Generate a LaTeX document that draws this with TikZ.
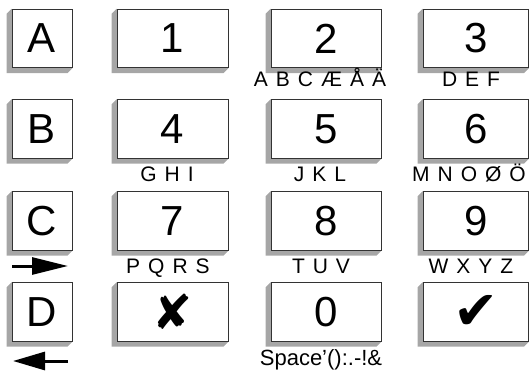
\documentclass[tikz,border=0pt]{standalone}
\usepackage{fontspec}
\setmainfont{Liberation Sans}
\newfontfamily\symfont{DejaVu Sans}
\usetikzlibrary{arrows.meta,calc}
\pgfdeclarelayer{background}
\pgfsetlayers{background,main}
\newcommand\lsp{\hspace{8pt}}
\newcommand\kshadow[1]{%
  \begin{pgfonlayer}{background}
    \fill[shadowfill] (#1.north west) -- ++(-5,5) |- ($(#1.south east)+(-5,5)$) -- (#1.south east) -- cycle;
  \end{pgfonlayer}}
\begin{document}
\begin{tikzpicture}[x=1pt,y=-1pt,
  shadowfill/.style={fill=black!35},
  keybox/.style={draw=black!80, line width=0.9pt, fill=white, minimum width=111pt,
    minimum height=58.5pt, inner sep=0pt, font=\fontsize{42}{42}\selectfont},
  letterbox/.style={keybox, minimum width=60pt},
  lbl/.style={anchor=base, inner sep=0pt, font=\fontsize{21}{21}\selectfont},
  bigarrow/.style={line width=3pt}
]
\useasboundingbox (0,0) rectangle (530,377);

% letter column
\node[letterbox] (A) at (42,38.5) {A};
\node[letterbox] (B) at (42,129) {B};
\node[letterbox] (C) at (42,221) {C};
\node[letterbox] (D) at (42,312) {D};

% key grid
\node[keybox] (k1) at (172.5,38.5) {1};
\node[keybox, minimum width=110pt] (k2) at (326,38.5) {2};
\node[keybox, minimum width=105.5pt] (k3) at (475.75,38.5) {3};
\node[keybox] (k4) at (172.5,129) {4};
\node[keybox, minimum width=110pt] (k5) at (326,129) {5};
\node[keybox, minimum width=105.5pt] (k6) at (475.75,129) {6};
\node[keybox] (k7) at (172.5,221) {7};
\node[keybox, minimum width=110pt] (k8) at (326,221) {8};
\node[keybox, minimum width=105.5pt] (k9) at (475.75,221) {9};
\node[keybox] (kx) at (172.5,312) {\symfont\fontsize{48}{48}\selectfont ✘};
\node[keybox, minimum width=110pt] (k0) at (326,312) {0};
\node[keybox, minimum width=105.5pt] (kok) at (475.75,312) {\symfont\fontsize{54}{54}\selectfont ✔};

\kshadow{A}\kshadow{B}\kshadow{C}\kshadow{D}
\kshadow{k1}\kshadow{k2}\kshadow{k3}
\kshadow{k4}\kshadow{k5}\kshadow{k6}
\kshadow{k7}\kshadow{k8}\kshadow{k9}
\kshadow{kx}\kshadow{k0}\kshadow{kok}

% letter labels
\node[lbl] (l2) at (320,87) {A\lsp B\lsp C\lsp Æ\lsp Å\lsp Ä};
\node[lbl] (l3) at (471,87) {D\lsp E\lsp F};
\node[lbl] (l4) at (167,181) {G\lsp H\lsp I};
\node[lbl] (l5) at (320,181) {J\lsp K\lsp L};
\node[lbl] (l6) at (469,181) {M\lsp N\lsp O\lsp Ø\lsp Ö};
\node[lbl] (l7) at (168,273) {P\lsp Q\lsp R\lsp S};
\node[lbl] (l8) at (321,273) {T\lsp U\lsp V};
\node[lbl] (l9) at (471,273) {W\lsp X\lsp Y\lsp Z};
\node[lbl, font=\fontsize{22}{22}\selectfont] (l0) at (321,365) {Space'():.-!\&};

% arrows
\coordinate (ra) at (12,266);
\coordinate (rb) at (68,266);
\coordinate (la) at (68,361);
\coordinate (lb) at (13,361);
\draw[bigarrow, -{Triangle[length=36pt,width=17pt]}] (ra) -- (rb);
\draw[bigarrow, -{Triangle[length=32pt,width=18pt]}] (la) -- (lb);
\end{tikzpicture}
\end{document}
